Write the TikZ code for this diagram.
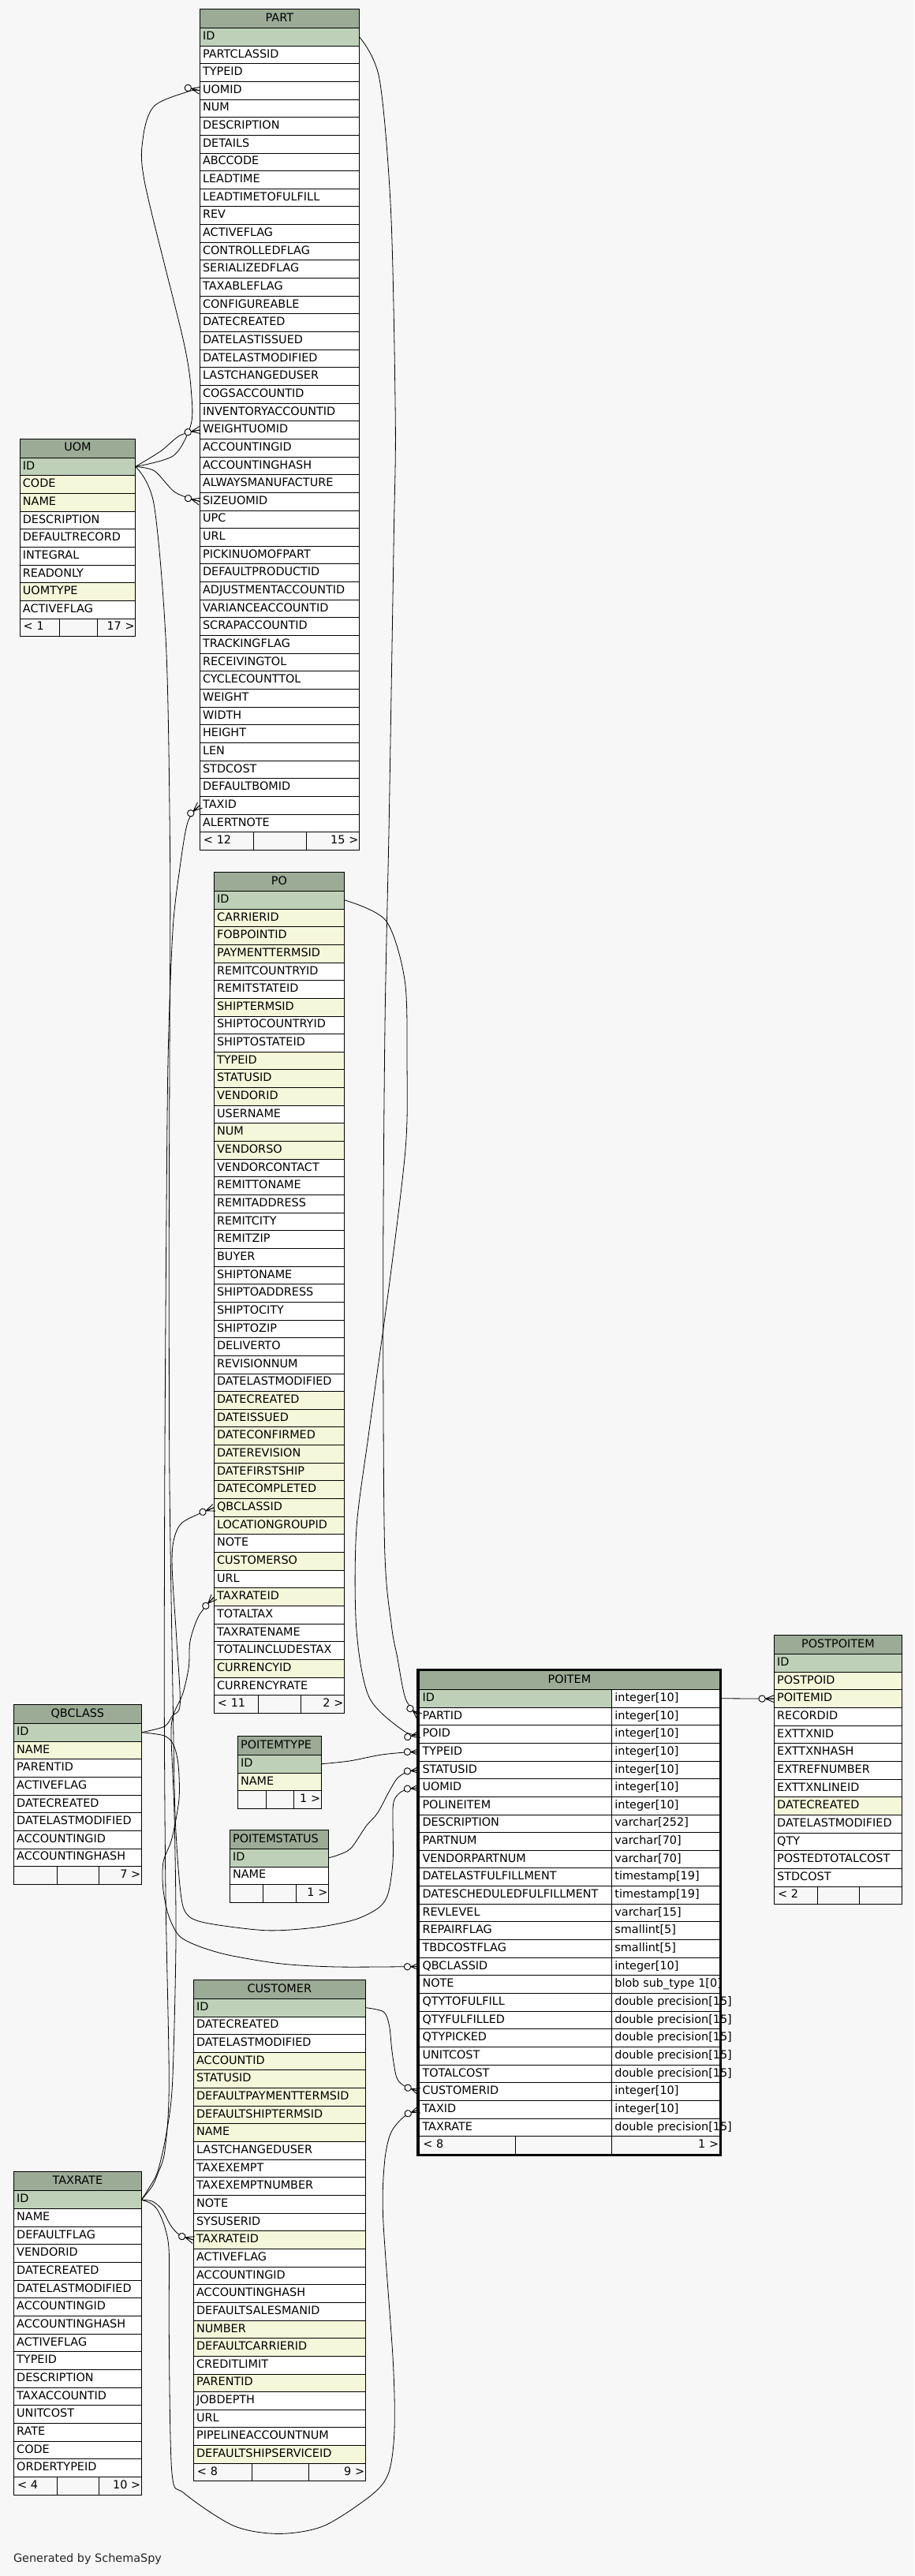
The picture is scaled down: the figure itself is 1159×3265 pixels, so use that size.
\documentclass[tikz,border=0pt]{standalone}
\usepackage{fontspec}
\setmainfont{DejaVu Sans}
\definecolor{hdrc}{HTML}{9BAB96}
\definecolor{pkc}{HTML}{BED1B8}
\definecolor{ixc}{HTML}{F4F7DA}
\definecolor{whc}{HTML}{FFFFFF}
\definecolor{bgc}{HTML}{F7F7F7}
\newcommand\tabfont{\fontsize{14.4pt}{17pt}\selectfont}
\pgfarrowsdeclare{crowo}{crowo}{\pgfarrowsleftextend{-20pt}\pgfarrowsrightextend{0pt}}{%
  \pgfsetdash{}{0pt}%
  \pgfsetlinewidth{0.9pt}%
  \pgfpathmoveto{\pgfpoint{-11pt}{0pt}}\pgfpathlineto{\pgfpoint{0pt}{4.6pt}}%
  \pgfpathmoveto{\pgfpoint{-11pt}{0pt}}\pgfpathlineto{\pgfpoint{0pt}{-4.6pt}}%
  \pgfpathmoveto{\pgfpoint{-11pt}{0pt}}\pgfpathlineto{\pgfpoint{0pt}{0pt}}%
  \pgfusepathqstroke
  \pgfsetfillcolor{bgc}%
  \pgfpathcircle{\pgfpoint{-15.4pt}{0pt}}{4.2pt}%
  \pgfusepathqfillstroke
}
\tikzset{
  tbase/.style={inner ysep=0pt, inner xsep=3.7pt, outer sep=0pt, draw=black, line width=0.9pt, font=\tabfont, text height=11pt, text depth=3.65pt, anchor=north west},
  thead/.style={tbase, fill=hdrc, minimum height=24pt, align=center},
  theadl/.style={tbase, fill=hdrc, minimum height=24pt, align=left},
  hstyle/.style={thead},
  tcell/.style={tbase, minimum height=22.65pt, align=left},
  tfoot/.style={tbase, fill=bgc, minimum height=22.65pt, align=left, inner xsep=4.5pt},
  tfootr/.style={tbase, fill=bgc, minimum height=22.65pt, align=right, inner xsep=1pt},
  fkline/.style={draw=black, line width=0.8pt, -crowo},
}
% #1 name, #2 x left, #3 x right, #4 top, #5 rows, #6 #7 footer splits, #8 #9 footer texts
\newcommand\dbtable[9]{%
  \pgfmathsetmacro\dbw{#3-#2}%
  \pgfmathsetmacro\dbtw{#3-#2-7.4}%
  \node[hstyle, minimum width=\dbw pt, text width=\dbtw pt] (#1) at (#2,#4) {#1};%
  \foreach \lab/\ty [count=\i from 0] in {#5}{%
    \pgfmathsetmacro\dby{#4+24+\i*22.65}%
    \node[tcell, fill=\ty, minimum width=\dbw pt, text width=\dbtw pt] (#1-\lab) at (#2,\dby) {\lab};%
    \xdef\dbn{\i}%
  }%
  \pgfmathsetmacro\dby{#4+24+(\dbn+1)*22.65}%
  \pgfmathsetmacro\dbwa{#6-#2}\pgfmathsetmacro\dbwat{#6-#2-9}%
  \pgfmathsetmacro\dbwb{#7-#6}%
  \pgfmathsetmacro\dbwc{#3-#7}\pgfmathsetmacro\dbwct{#3-#7-2}%
  \node[tfoot, minimum width=\dbwa pt, text width=\dbwat pt] (#1-fa) at (#2,\dby) {#8};%
  \node[tfoot, minimum width=\dbwb pt] (#1-fb) at (#6,\dby) {};%
  \node[tfootr, minimum width=\dbwc pt, text width=\dbwct pt] (#1-fc) at (#7,\dby) {#9};%
}
\begin{document}
\begin{tikzpicture}[x=1pt,y=-1pt]
\useasboundingbox (0,0) rectangle (1159,3265);
\fill[bgc] (0,0) rectangle (1159,3265);

\dbtable{PART}{253.4}{455.4}{11.4}{ID/pkc, PARTCLASSID/whc, TYPEID/whc, UOMID/whc, NUM/whc, DESCRIPTION/whc, DETAILS/whc, ABCCODE/whc, LEADTIME/whc, LEADTIMETOFULFILL/whc, REV/whc, ACTIVEFLAG/whc, CONTROLLEDFLAG/whc, SERIALIZEDFLAG/whc, TAXABLEFLAG/whc, CONFIGUREABLE/whc, DATECREATED/whc, DATELASTISSUED/whc, DATELASTMODIFIED/whc, LASTCHANGEDUSER/whc, COGSACCOUNTID/whc, INVENTORYACCOUNTID/whc, WEIGHTUOMID/whc, ACCOUNTINGID/whc, ACCOUNTINGHASH/whc, ALWAYSMANUFACTURE/whc, SIZEUOMID/whc, UPC/whc, URL/whc, PICKINUOMOFPART/whc, DEFAULTPRODUCTID/whc, ADJUSTMENTACCOUNTID/whc, VARIANCEACCOUNTID/whc, SCRAPACCOUNTID/whc, TRACKINGFLAG/whc, RECEIVINGTOL/whc, CYCLECOUNTTOL/whc, WEIGHT/whc, WIDTH/whc, HEIGHT/whc, LEN/whc, STDCOST/whc, DEFAULTBOMID/whc, TAXID/whc, ALERTNOTE/whc}{321.9}{388.5}{< 12}{15 >}

\dbtable{UOM}{25.2}{171.7}{556.1}{ID/pkc, CODE/ixc, NAME/ixc, DESCRIPTION/whc, DEFAULTRECORD/whc, INTEGRAL/whc, READONLY/whc, UOMTYPE/ixc, ACTIVEFLAG/whc}{75.5}{123.6}{< 1}{17 >}

\dbtable{PO}{271.4}{436.4}{1105.4}{ID/pkc, CARRIERID/ixc, FOBPOINTID/ixc, PAYMENTTERMSID/ixc, REMITCOUNTRYID/whc, REMITSTATEID/whc, SHIPTERMSID/ixc, SHIPTOCOUNTRYID/whc, SHIPTOSTATEID/whc, TYPEID/ixc, STATUSID/ixc, VENDORID/ixc, USERNAME/whc, NUM/ixc, VENDORSO/ixc, VENDORCONTACT/whc, REMITTONAME/whc, REMITADDRESS/whc, REMITCITY/whc, REMITZIP/whc, BUYER/whc, SHIPTONAME/whc, SHIPTOADDRESS/whc, SHIPTOCITY/whc, SHIPTOZIP/whc, DELIVERTO/whc, REVISIONNUM/whc, DATELASTMODIFIED/whc, DATECREATED/ixc, DATEISSUED/ixc, DATECONFIRMED/ixc, DATEREVISION/ixc, DATEFIRSTSHIP/ixc, DATECOMPLETED/ixc, QBCLASSID/ixc, LOCATIONGROUPID/ixc, NOTE/whc, CUSTOMERSO/ixc, URL/whc, TAXRATEID/ixc, TOTALTAX/whc, TAXRATENAME/whc, TOTALINCLUDESTAX/whc, CURRENCYID/ixc, CURRENCYRATE/whc}{327.5}{381.4}{< 11}{2 >}

\dbtable{QBCLASS}{17.5}{179.3}{2160.4}{ID/pkc, NAME/ixc, PARENTID/whc, ACTIVEFLAG/whc, DATECREATED/whc, DATELASTMODIFIED/whc, ACCOUNTINGID/whc, ACCOUNTINGHASH/whc}{72.5}{125.7}{}{7 >}

\tikzset{hstyle/.style={theadl}}
\dbtable{POITEMTYPE}{301.4}{407.1}{2200.4}{ID/pkc, NAME/ixc}{337.1}{372.5}{}{1 >}
\dbtable{POITEMSTATUS}{291.4}{416.4}{2319.3}{ID/pkc, NAME/whc}{333.2}{375.4}{}{1 >}
\tikzset{hstyle/.style={thead}}

\dbtable{CUSTOMER}{245.4}{463.2}{2509.3}{ID/pkc, DATECREATED/whc, DATELASTMODIFIED/whc, ACCOUNTID/ixc, STATUSID/ixc, DEFAULTPAYMENTTERMSID/ixc, DEFAULTSHIPTERMSID/ixc, NAME/ixc, LASTCHANGEDUSER/whc, TAXEXEMPT/whc, TAXEXEMPTNUMBER/whc, NOTE/whc, SYSUSERID/whc, TAXRATEID/ixc, ACTIVEFLAG/whc, ACCOUNTINGID/whc, ACCOUNTINGHASH/whc, DEFAULTSALESMANID/whc, NUMBER/ixc, DEFAULTCARRIERID/ixc, CREDITLIMIT/whc, PARENTID/ixc, JOBDEPTH/whc, URL/whc, PIPELINEACCOUNTNUM/whc, DEFAULTSHIPSERVICEID/ixc}{319.3}{391.8}{< 8}{9 >}

\dbtable{TAXRATE}{17.5}{179.3}{2752.9}{ID/pkc, NAME/whc, DEFAULTFLAG/whc, VENDORID/whc, DATECREATED/whc, DATELASTMODIFIED/whc, ACCOUNTINGID/whc, ACCOUNTINGHASH/whc, ACTIVEFLAG/whc, TYPEID/whc, DESCRIPTION/whc, TAXACCOUNTID/whc, UNITCOST/whc, RATE/whc, CODE/whc, ORDERTYPEID/whc}{72.5}{125.7}{< 4}{10 >}

\dbtable{POSTPOITEM}{981.5}{1143.3}{2072.5}{ID/pkc, POSTPOID/ixc, POITEMID/ixc, RECORDID/whc, EXTTXNID/whc, EXTTXNHASH/whc, EXTREFNUMBER/whc, EXTTXNLINEID/whc, DATECREATED/ixc, DATELASTMODIFIED/whc, QTY/whc, POSTEDTOTALCOST/whc, STDCOST/whc}{1036.1}{1089.7}{< 2}{}

% POITEM (selected table, two columns)
\node[thead, minimum width=380.3pt, text width=372.9pt] (POITEM) at (531.8,2117.4) {POITEM};
\foreach \lab/\ty/\cc [count=\i from 0] in {ID/integer[10]/pkc, PARTID/integer[10]/whc, POID/integer[10]/whc, TYPEID/integer[10]/whc, STATUSID/integer[10]/whc, UOMID/integer[10]/whc, POLINEITEM/integer[10]/whc, DESCRIPTION/varchar[252]/whc, PARTNUM/varchar[70]/whc, VENDORPARTNUM/varchar[70]/whc, DATELASTFULFILLMENT/timestamp[19]/whc, DATESCHEDULEDFULFILLMENT/timestamp[19]/whc, REVLEVEL/varchar[15]/whc, REPAIRFLAG/smallint[5]/whc, TBDCOSTFLAG/smallint[5]/whc, QBCLASSID/integer[10]/whc, NOTE/{blob sub\_type 1[0]}/whc, QTYTOFULFILL/{double precision[15]}/whc, QTYFULFILLED/{double precision[15]}/whc, QTYPICKED/{double precision[15]}/whc, UNITCOST/{double precision[15]}/whc, TOTALCOST/{double precision[15]}/whc, CUSTOMERID/integer[10]/whc, TAXID/integer[10]/whc, TAXRATE/{double precision[15]}/whc}{%
  \pgfmathsetmacro\dby{2141.4+\i*22.65}%
  \node[tcell, fill=\cc, minimum width=243.9pt, text width=236.5pt] (POITEM-\lab) at (531.8,\dby) {\lab};%
  \node[tcell, fill=whc, minimum width=136.4pt, text width=129pt] (POITEMt-\lab) at (775.7,\dby) {\mbox{\ty}};%
}
\node[tfoot, minimum width=121.4pt, text width=112.4pt] (POITEM-fa) at (531.8,2707.65) {< 8};
\node[tfoot, minimum width=122.5pt] (POITEM-fb) at (653.2,2707.65) {};
\node[tfootr, minimum width=136.4pt, text width=134.4pt] (POITEM-fc) at (775.7,2707.65) {1 >};
\draw[line width=3.4pt] (530,2116.6) rectangle (913.6,2731.6);

% connectors (PK side -> FK side with crow's foot)
\draw[fkline] plot[smooth,tension=0.5] coordinates {(UOM-ID.east) (220,577.5) (241.5,540) (243,503.6) (233,434) (184,234) (181.3,175) (195.3,134.6) (238.6,116) (PART-UOMID.west)};
\draw[fkline] plot[smooth,tension=0.5] coordinates {(UOM-ID.east) (203.5,572) (228,552) (PART-WEIGHTUOMID.west)};
\draw[fkline] plot[smooth,tension=0.5] coordinates {(UOM-ID.east) (196,597) (222,624) (PART-SIZEUOMID.west)};
\draw[fkline] plot[smooth,tension=0.5] coordinates {(TAXRATE-ID.east) (192.9,2771) (200,2755) (209,2725.7) (214.3,2640) (210,2400) (208.3,2160) (208.8,1880) (210.5,1600) (213,1345) (219,1180) (228,1100) (238,1042) (PART-TAXID.west)};
\draw[fkline] plot[smooth,tension=0.5] coordinates {(QBCLASS-ID.east) (208.3,2188.3) (218.3,2175) (228.3,2160) (224,2080) (218.3,1990) (220,1953.3) (231.7,1929.3) (PO-QBCLASSID.west)};
\draw[fkline] plot[smooth,tension=0.5] coordinates {(TAXRATE-ID.east) (189,2773) (200,2752) (210.7,2705) (218.6,2640) (223,2460) (221,2300) (217,2200) (220,2173) (231.7,2146.7) (239.3,2113) (241,2080) (252,2048) (PO-TAXRATEID.west)};
\draw[fkline] plot[smooth,tension=0.5] coordinates {(PART-ID.east) (481,100) (495.7,271.4) (501.3,535.7) (499.4,672) (495.7,897) (492.9,1060) (488,1300) (485.7,1620) (487.5,1957) (496.4,2060.7) (503.6,2100) (514.3,2153.6) (POITEM-PARTID.west)};
\draw[fkline] plot[smooth,tension=0.5] coordinates {(PO-ID.east) (489.3,1167) (513.2,1243) (516,1346) (514.3,1453) (494.6,1620) (467.9,1814) (451.8,1939) (451.8,2064) (467.9,2151) (512,2194) (POITEM-POID.west)};
\draw[fkline] plot[smooth,tension=0.5] coordinates {(POITEMTYPE-ID.east) (442.9,2232) (482,2224.3) (514,2221) (POITEM-TYPEID.west)};
\draw[fkline] plot[smooth,tension=0.5] coordinates {(POITEMSTATUS-ID.east) (426.8,2351.8) (444.6,2342.9) (464.3,2314.3) (478.6,2298) (492.9,2271.4) (503.6,2254) (516,2246) (POITEM-STATUSID.west)};
\draw[fkline] plot[smooth,tension=0.5] coordinates {(UOM-ID.east) (195.3,640) (210.9,825.7) (215.7,1100) (215,1345) (214.3,1600) (215,1880) (219.3,2160) (222,2300) (228.3,2393) (236,2425) (260,2437) (336.7,2446.7) (400,2443) (450,2433) (480,2418) (492,2400) (498.2,2357) (498.2,2290) (505,2274) (516,2268) (POITEM-UOMID.west)};
\draw[fkline] plot[smooth,tension=0.5] coordinates {(QBCLASS-ID.east) (208.3,2200) (220,2211.7) (226,2236.7) (227,2280) (218,2330) (207,2360) (206.7,2393) (213.3,2426.7) (226.7,2453) (250,2466) (290,2478) (357,2489) (428.6,2493) (POITEM-QBCLASSID.west)};
\draw[fkline] plot[smooth,tension=0.5] coordinates {(CUSTOMER-ID.east) (486.4,2550) (493.6,2567.9) (497,2600) (502.5,2632) (511.4,2643) (POITEM-CUSTOMERID.west)};
\draw[fkline] plot[smooth,tension=0.5] coordinates {(TAXRATE-ID.east) (191,2792.5) (200,2801.4) (209,2823) (214.3,2855) (214.3,2955) (217.9,3133.6) (233.9,3160.4) (296.4,3201.4) (353.6,3211.4) (410.7,3201.4) (471.4,3162) (492.9,3133.6) (500,3080) (498.2,2990.7) (485.7,2812) (487.5,2740.7) (495.4,2703.6) (512,2683) (POITEM-TAXID.west)};
\draw[fkline] (POITEMt-ID.east) -- (POSTPOITEM-POITEMID.west);
\draw[fkline] plot[smooth,tension=0.5] coordinates {(TAXRATE-ID.east) (193,2790) (205,2800) (216,2820) (226.8,2832) (CUSTOMER-TAXRATEID.west)};

\node[font=\tabfont, anchor=base west, inner sep=0pt, text=black!85] (gen) at (16.8,3247) {Generated by SchemaSpy};
\end{tikzpicture}
\end{document}
